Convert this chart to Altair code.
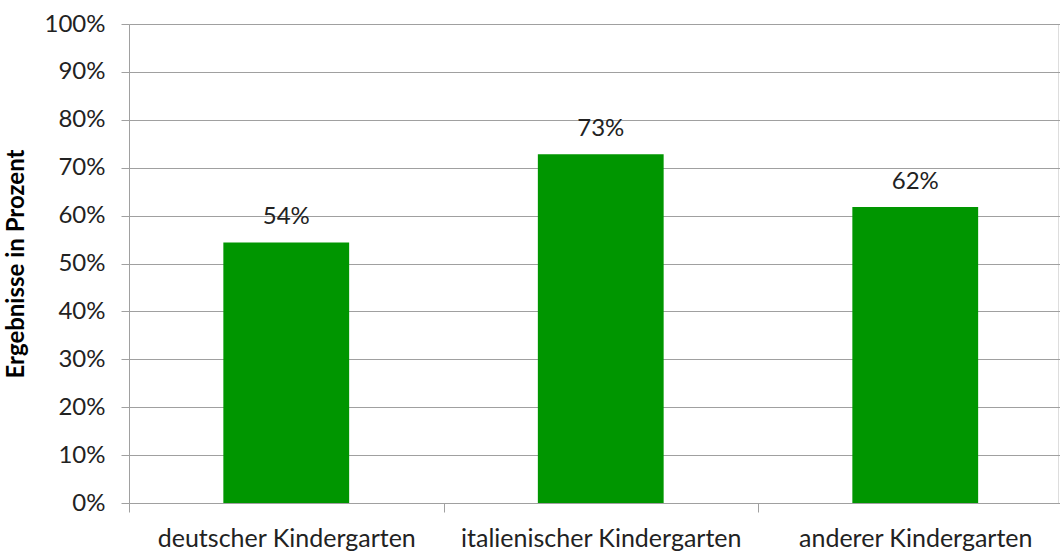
import altair as alt
import pandas as pd

categories = ["deutscher Kindergarten", "italienischer Kindergarten", "anderer Kindergarten"]
values = [0.544, 0.728, 0.618]
labels = ["54%", "73%", "62%"]

df = pd.DataFrame({"cat": categories, "val": values, "lab": labels})

FONT = "Lato"
GRID = "#a0a0a0"
XRANGE = [0, 943.5]

x = alt.X("cat:N", sort=categories, title=None,
          scale=alt.Scale(paddingInner=0, paddingOuter=0, range=XRANGE),
          axis=alt.Axis(labelAngle=0, labelFontSize=25, labelFont=FONT, labelColor="#222222",
                        tickBand="extent", tickSize=9, tickColor=GRID, domainColor=GRID,
                        labelPadding=14, grid=False, labelLimit=0))
y = alt.Y("val:Q", title="Ergebnisse in Prozent",
          scale=alt.Scale(domain=[0, 1], nice=False),
          axis=alt.Axis(format=".0%", values=[i / 10 for i in range(11)], labelFontSize=24,
                        labelFont=FONT, labelColor="#222222", tickSize=8, tickColor=GRID,
                        domainColor=GRID, gridColor=GRID, labelPadding=16,
                        titleFont=FONT, titleFontSize=24, titleFontWeight="bold",
                        titleColor="#000000", titlePadding=16))

bars = alt.Chart(df).mark_bar(color="#009600", width=alt.RelativeBandSize(0.4)).encode(x=x, y=y)
text = alt.Chart(df).mark_text(dy=-25, fontSize=24, font=FONT, color="#222222").encode(
    x=alt.X("cat:N", sort=categories), y="val:Q", text="lab:N")

chart = (bars + text).properties(
    width=929, height=479,
    autosize=alt.AutoSizeParams(type="none"),
    padding={"left": 129, "top": 24, "right": 2, "bottom": 49},
).configure_view(stroke=None).configure(background="white")

chart.save("out.html", embed_options={"renderer": "svg", "actions": False})
